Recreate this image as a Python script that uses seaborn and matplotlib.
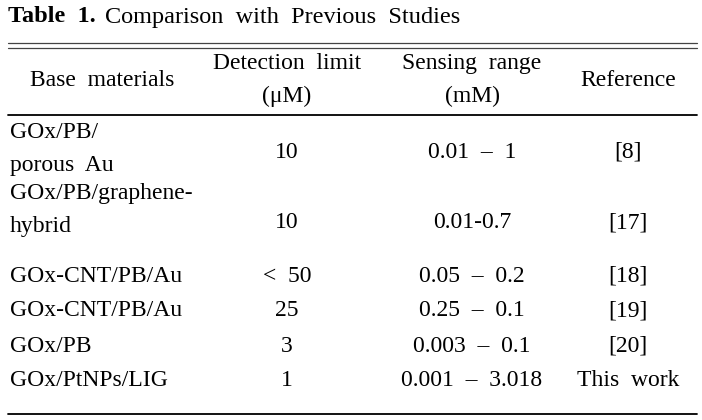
import seaborn as sns
from matplotlib import pyplot as plt

# table content
title_bold = "Table  1."
title_rest = "Comparison  with  Previous  Studies"
headers = ["Base  materials", "Detection  limit\n(\u03bcM)", "Sensing  range\n(mM)", "Reference"]
materials = ["GOx/PB/\nporous  Au", "GOx/PB/graphene-\nhybrid", "GOx-CNT/PB/Au",
             "GOx-CNT/PB/Au", "GOx/PB", "GOx/PtNPs/LIG"]
detection = ["10", "10", "<  50", "25", "3", "1"]
sensing = ["0.01  \u2013  1", "0.01-0.7", "0.05  \u2013  0.2", "0.25  \u2013  0.1",
           "0.003  \u2013  0.1", "0.001  \u2013  3.018"]
refs = ["[8]", "[17]", "[18]", "[19]", "[20]", "This  work"]

sns.set_theme(style="white")
plt.rcParams['font.family'] = ['Liberation Serif', 'DejaVu Serif']

fig = plt.figure(figsize=(7.02, 4.2), dpi=100)
ax = fig.add_axes([0, 0, 1, 1])
ax.set_xlim(0, 702)
ax.set_ylim(420, 0)
ax.axis('off')

fs = 17
ink = 'black'

# caption
t = ax.text(8, 17, title_bold, fontsize=17.5, fontweight='bold', ha='left', va='center', color=ink)
fig.canvas.draw()
bb = t.get_window_extent().transformed(ax.transData.inverted())
ax.text(bb.x1 + 9, 17, title_rest, fontsize=17.5, ha='left', va='center', color=ink)

# rules
ax.plot([8, 697], [43, 43], color='#444444', lw=0.9)
ax.plot([8, 697], [48, 48], color='#444444', lw=0.9)
ax.plot([8, 697], [115, 115], color=ink, lw=1.3)
ax.plot([8, 697], [414, 414], color=ink, lw=1.3)

col_x = [102, 287, 472, 628]
for x, h in zip(col_x, headers):
    ax.text(x, 80, h, fontsize=fs, ha='center', va='center', color=ink, linespacing=1.75)

row_label_y = [149, 210, 276, 311, 346, 381]
row_val_y = [152, 223, 276, 311, 346, 381]
for i in range(len(materials)):
    ax.text(10, row_label_y[i], materials[i], fontsize=fs, ha='left', va='center', color=ink,
            linespacing=1.75)
    ax.text(col_x[1], row_val_y[i], detection[i], fontsize=fs, ha='center', va='center', color=ink)
    ax.text(col_x[2], row_val_y[i], sensing[i], fontsize=fs, ha='center', va='center', color=ink)
    ax.text(col_x[3], row_val_y[i], refs[i], fontsize=fs, ha='center', va='center', color=ink)

fig.savefig('out.png', dpi=100)
